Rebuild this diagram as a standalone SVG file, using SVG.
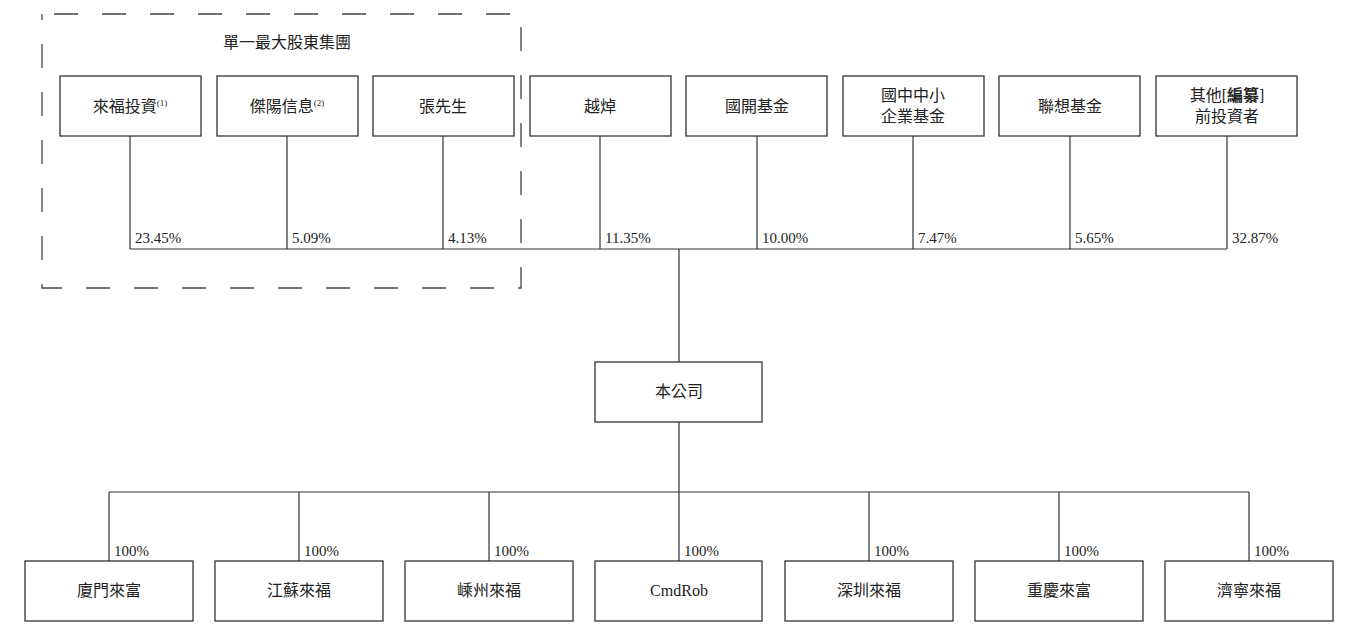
<svg xmlns="http://www.w3.org/2000/svg" width="1356" height="636" viewBox="0 0 1356 636">
<style>
rect.n{fill:#fff;stroke:#333;stroke-width:1.3}
text{font-family:"Liberation Serif","Noto Sans CJK TC",serif;font-size:16px;fill:#222}
.c{text-anchor:middle}
.p{font-size:15px}
.e line,.e polyline{stroke:#333;stroke-width:1.2;fill:none}
</style>
<rect x="0" y="0" width="1356" height="636" fill="#fff"/>
<g id="group"><rect x="42" y="14" width="479" height="274" fill="none" stroke="#444" stroke-width="1.3" stroke-dasharray="24,24" stroke-dashoffset="-12"/>
<text class="c" x="287" y="48">單一最大股東集團</text></g>
<g class="e" id="connectors">
<line x1="130" y1="249" x2="1227" y2="249"/>
<line x1="130" y1="136" x2="130" y2="249"/><line x1="287" y1="136" x2="287" y2="249"/><line x1="443" y1="136" x2="443" y2="249"/><line x1="600" y1="136" x2="600" y2="249"/><line x1="757" y1="136" x2="757" y2="249"/><line x1="913" y1="136" x2="913" y2="249"/><line x1="1070" y1="136" x2="1070" y2="249"/><line x1="1227" y1="136" x2="1227" y2="249"/>
<line x1="679" y1="249" x2="679" y2="362"/><line x1="679" y1="422" x2="679" y2="492"/>
<line x1="109" y1="492" x2="1249" y2="492"/>
<line x1="109" y1="492" x2="109" y2="561"/><line x1="299" y1="492" x2="299" y2="561"/><line x1="489" y1="492" x2="489" y2="561"/><line x1="679" y1="492" x2="679" y2="561"/><line x1="869" y1="492" x2="869" y2="561"/><line x1="1059" y1="492" x2="1059" y2="561"/><line x1="1249" y1="492" x2="1249" y2="561"/>
<text class="p" x="135" y="243">23.45%</text><text class="p" x="292" y="243">5.09%</text><text class="p" x="448" y="243">4.13%</text><text class="p" x="605" y="243">11.35%</text><text class="p" x="762" y="243">10.00%</text><text class="p" x="918" y="243">7.47%</text><text class="p" x="1075" y="243">5.65%</text><text class="p" x="1232" y="243">32.87%</text>
<text class="p" x="114" y="556">100%</text><text class="p" x="304" y="556">100%</text><text class="p" x="494" y="556">100%</text><text class="p" x="684" y="556">100%</text><text class="p" x="874" y="556">100%</text><text class="p" x="1064" y="556">100%</text><text class="p" x="1254" y="556">100%</text>
</g>
<g id="n1"><rect class="n" x="60" y="76" width="141" height="60"/><text class="c" x="130" y="112">來福投資<tspan font-size="9" dy="-6">(1)</tspan></text></g>
<g id="n2"><rect class="n" x="217" y="76" width="141" height="60"/><text class="c" x="287" y="112">傑陽信息<tspan font-size="9" dy="-6">(2)</tspan></text></g>
<g id="n3"><rect class="n" x="373" y="76" width="141" height="60"/><text class="c" x="443" y="112">張先生</text></g>
<g id="n4"><rect class="n" x="530" y="76" width="141" height="60"/><text class="c" x="600" y="112">越焯</text></g>
<g id="n5"><rect class="n" x="686" y="76" width="141" height="60"/><text class="c" x="757" y="112">國開基金</text></g>
<g id="n6"><rect class="n" x="843" y="76" width="141" height="60"/><text class="c" x="913" y="101">國中中小</text><text class="c" x="913" y="122">企業基金</text></g>
<g id="n7"><rect class="n" x="999" y="76" width="141" height="60"/><text class="c" x="1070" y="112">聯想基金</text></g>
<g id="n8"><rect class="n" x="1156" y="76" width="141" height="60"/><text class="c" x="1227" y="101">其他[<tspan font-weight="bold">編纂</tspan>]</text><text class="c" x="1227" y="122">前投資者</text></g>
<g id="company"><rect class="n" x="595" y="362" width="167" height="60"/><text class="c" x="679" y="397">本公司</text></g>
<g id="s1"><rect class="n" x="25" y="561" width="168" height="60"/><text class="c" x="109" y="596">廈門來富</text></g>
<g id="s2"><rect class="n" x="215" y="561" width="168" height="60"/><text class="c" x="299" y="596">江蘇來福</text></g>
<g id="s3"><rect class="n" x="405" y="561" width="168" height="60"/><text class="c" x="489" y="596">嵊州來福</text></g>
<g id="s4"><rect class="n" x="595" y="561" width="167" height="60"/><text class="c" x="679" y="596">CmdRob</text></g>
<g id="s5"><rect class="n" x="785" y="561" width="168" height="60"/><text class="c" x="869" y="596">深圳來福</text></g>
<g id="s6"><rect class="n" x="975" y="561" width="168" height="60"/><text class="c" x="1059" y="596">重慶來富</text></g>
<g id="s7"><rect class="n" x="1165" y="561" width="168" height="60"/><text class="c" x="1249" y="596">濟寧來福</text></g>
</svg>
